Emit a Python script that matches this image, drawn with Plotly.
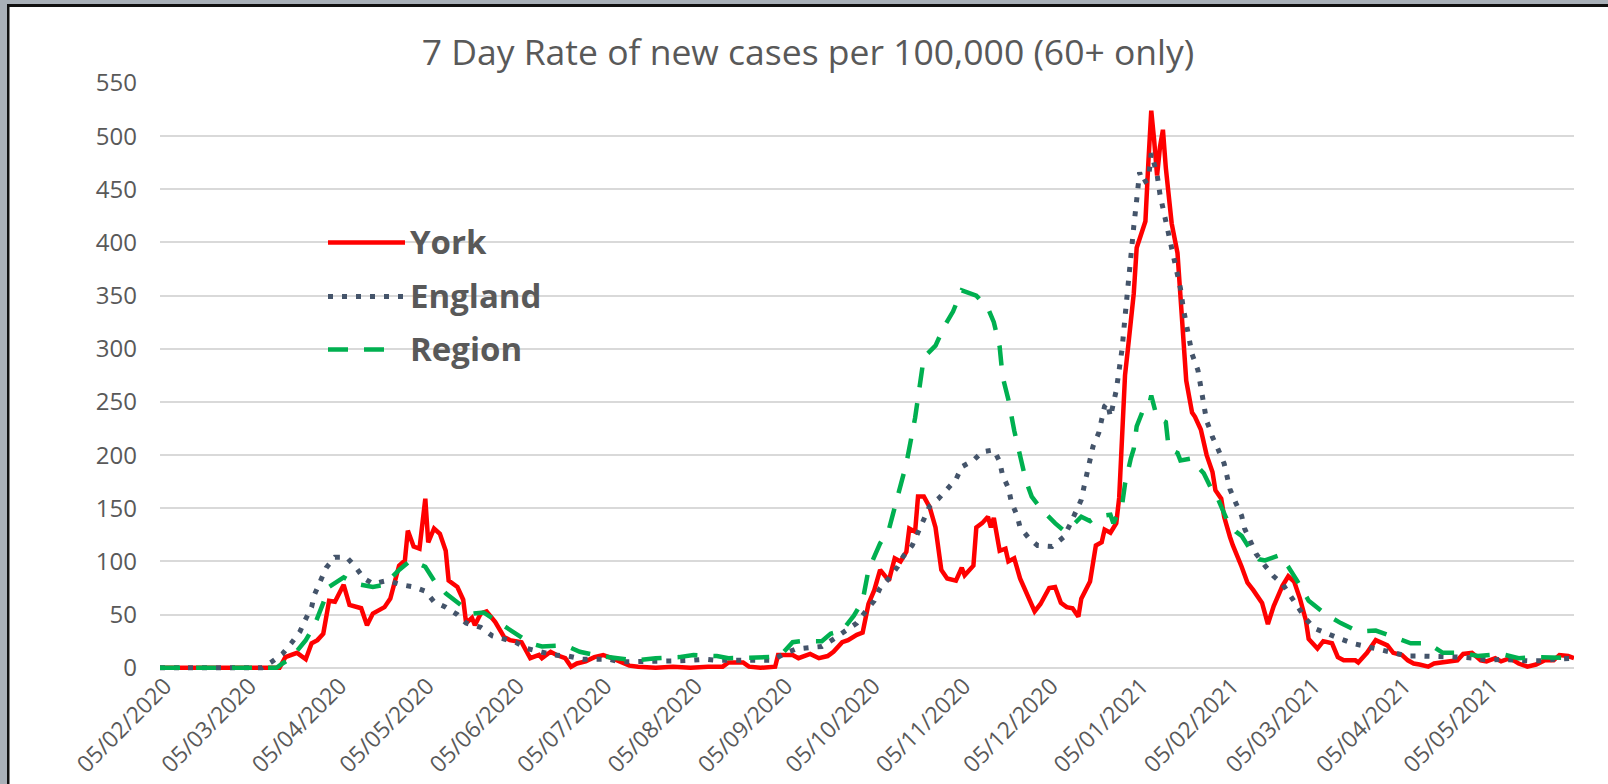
import plotly.graph_objects as go

# ---------------- data ----------------
york_dates = [
    "2020-02-05", "2020-03-17", "2020-03-19", "2020-03-23", "2020-03-26", "2020-03-28", "2020-03-30",
    "2020-04-01", "2020-04-03", "2020-04-05", "2020-04-08", "2020-04-10", "2020-04-14", "2020-04-16",
    "2020-04-18", "2020-04-22", "2020-04-24", "2020-04-27", "2020-04-29", "2020-04-30", "2020-05-02",
    "2020-05-04", "2020-05-06", "2020-05-07", "2020-05-09", "2020-05-11", "2020-05-13", "2020-05-14",
    "2020-05-17", "2020-05-19", "2020-05-20", "2020-05-22", "2020-05-23", "2020-05-25", "2020-05-27",
    "2020-05-30", "2020-06-02", "2020-06-04", "2020-06-08", "2020-06-10", "2020-06-11", "2020-06-14",
    "2020-06-15", "2020-06-18", "2020-06-20", "2020-06-23", "2020-06-25", "2020-06-27", "2020-06-30",
    "2020-07-03", "2020-07-06", "2020-07-09", "2020-07-12", "2020-07-15", "2020-07-18", "2020-07-24",
    "2020-07-30", "2020-08-05", "2020-08-11", "2020-08-16", "2020-08-18", "2020-08-23", "2020-08-25",
    "2020-08-29", "2020-09-03", "2020-09-04", "2020-09-09", "2020-09-11", "2020-09-15", "2020-09-18",
    "2020-09-21", "2020-09-23", "2020-09-26", "2020-09-28", "2020-10-01", "2020-10-03", "2020-10-05",
    "2020-10-07", "2020-10-09", "2020-10-12", "2020-10-14", "2020-10-16", "2020-10-18", "2020-10-19",
    "2020-10-21", "2020-10-22", "2020-10-24", "2020-10-26", "2020-10-28", "2020-10-30", "2020-11-01",
    "2020-11-04", "2020-11-06", "2020-11-07", "2020-11-10", "2020-11-11", "2020-11-13", "2020-11-15",
    "2020-11-16", "2020-11-17", "2020-11-19", "2020-11-21", "2020-11-22", "2020-11-24", "2020-11-26",
    "2020-11-29", "2020-12-01", "2020-12-03", "2020-12-06", "2020-12-08", "2020-12-10", "2020-12-12",
    "2020-12-14", "2020-12-16", "2020-12-17", "2020-12-20", "2020-12-22", "2020-12-24", "2020-12-25",
    "2020-12-27", "2020-12-29", "2020-12-30", "2020-12-31", "2021-01-01", "2021-01-02", "2021-01-03",
    "2021-01-04", "2021-01-05", "2021-01-07", "2021-01-08", "2021-01-09", "2021-01-10", "2021-01-11",
    "2021-01-12", "2021-01-13", "2021-01-14", "2021-01-15", "2021-01-16", "2021-01-17", "2021-01-19",
    "2021-01-20", "2021-01-22", "2021-01-24", "2021-01-25", "2021-01-27", "2021-01-29", "2021-01-31",
    "2021-02-01", "2021-02-03", "2021-02-04", "2021-02-06", "2021-02-07", "2021-02-10", "2021-02-12",
    "2021-02-14", "2021-02-17", "2021-02-19", "2021-02-21", "2021-02-24", "2021-02-26", "2021-02-28",
    "2021-03-02", "2021-03-04", "2021-03-05", "2021-03-08", "2021-03-10", "2021-03-13", "2021-03-15",
    "2021-03-17", "2021-03-21", "2021-03-22", "2021-03-25", "2021-03-28", "2021-03-30", "2021-04-01",
    "2021-04-03", "2021-04-06", "2021-04-08", "2021-04-10", "2021-04-12", "2021-04-15", "2021-04-17",
    "2021-04-20", "2021-04-22", "2021-04-25", "2021-04-27", "2021-04-30", "2021-05-03", "2021-05-05",
    "2021-05-08", "2021-05-10", "2021-05-13", "2021-05-16", "2021-05-19", "2021-05-22", "2021-05-25",
    "2021-05-28", "2021-05-30", "2021-06-02", "2021-06-04",
]
york_values = [
    0, 0, 10, 14, 8, 23, 26,
    32, 63, 62, 78, 59, 56, 40,
    51, 57, 65, 96, 101, 129, 114,
    112, 159, 118, 131, 126, 110, 82,
    76, 64, 42, 47, 40, 51, 53,
    43, 29, 26, 24, 14, 9, 12,
    9, 15, 12, 9, 1, 4, 6,
    10, 12, 9, 5, 2, 1, 0,
    1, 0, 1, 1, 5, 5, 1,
    0, 1, 12, 12, 9, 13, 9,
    11, 15, 24, 26, 31, 33, 60,
    73, 92, 82, 103, 100, 109, 131,
    128, 161, 161, 151, 132, 92, 84,
    82, 94, 87, 96, 132, 136, 142,
    132, 141, 110, 112, 100, 103, 84,
    64, 53, 60, 75, 76, 61, 57,
    56, 48, 65, 81, 115, 118, 130,
    127, 136, 160, 225, 275, 300, 330,
    352, 395, 413, 420, 475, 524, 496,
    463, 490, 506, 470, 440, 418, 390,
    345, 270, 240, 236, 224, 200, 184,
    167, 159, 142, 123, 115, 95, 80,
    73, 61, 41, 58, 77, 86, 81,
    65, 45, 27, 18, 25, 23, 10,
    7, 7, 5, 14, 26, 23, 21,
    14, 12, 7, 4, 3, 1, 4,
    5, 6, 7, 13, 14, 7, 6,
    9, 6, 9, 4, 1, 3, 7,
    7, 12, 11, 9,
]

england_dates = [
    "2020-02-05", "2020-03-11", "2020-03-14", "2020-03-18", "2020-03-21", "2020-03-24", "2020-03-26",
    "2020-03-28", "2020-03-29", "2020-03-31", "2020-04-02", "2020-04-05", "2020-04-09", "2020-04-12",
    "2020-04-15", "2020-04-18", "2020-04-23", "2020-04-28", "2020-05-02", "2020-05-06", "2020-05-09",
    "2020-05-13", "2020-05-17", "2020-05-20", "2020-05-25", "2020-05-29", "2020-06-02", "2020-06-06",
    "2020-06-10", "2020-06-15", "2020-06-19", "2020-06-24", "2020-06-29", "2020-07-03", "2020-07-08",
    "2020-07-12", "2020-07-17", "2020-07-22", "2020-07-27", "2020-08-01", "2020-08-05", "2020-08-10",
    "2020-08-14", "2020-08-19", "2020-08-24", "2020-08-28", "2020-09-02", "2020-09-06", "2020-09-10",
    "2020-09-15", "2020-09-19", "2020-09-23", "2020-09-27", "2020-10-01", "2020-10-04", "2020-10-07",
    "2020-10-09", "2020-10-12", "2020-10-15", "2020-10-17", "2020-10-20", "2020-10-22", "2020-10-24",
    "2020-10-26", "2020-10-29", "2020-11-01", "2020-11-04", "2020-11-06", "2020-11-10", "2020-11-13",
    "2020-11-17", "2020-11-19", "2020-11-20", "2020-11-22", "2020-11-23", "2020-11-25", "2020-11-26",
    "2020-11-29", "2020-12-02", "2020-12-07", "2020-12-11", "2020-12-13", "2020-12-15", "2020-12-17",
    "2020-12-18", "2020-12-19", "2020-12-20", "2020-12-21", "2020-12-23", "2020-12-24", "2020-12-25",
    "2020-12-26", "2020-12-27", "2020-12-29", "2020-12-30", "2020-12-31", "2021-01-01", "2021-01-02",
    "2021-01-03", "2021-01-04", "2021-01-05", "2021-01-06", "2021-01-07", "2021-01-09", "2021-01-10",
    "2021-01-12", "2021-01-13", "2021-01-14", "2021-01-15", "2021-01-16", "2021-01-17", "2021-01-18",
    "2021-01-19", "2021-01-20", "2021-01-21", "2021-01-22", "2021-01-23", "2021-01-24", "2021-01-26",
    "2021-01-27", "2021-01-28", "2021-01-29", "2021-01-30", "2021-01-31", "2021-02-02", "2021-02-04",
    "2021-02-05", "2021-02-06", "2021-02-08", "2021-02-10", "2021-02-11", "2021-02-13", "2021-02-15",
    "2021-02-18", "2021-02-21", "2021-02-24", "2021-02-27", "2021-03-01", "2021-03-04", "2021-03-07",
    "2021-03-11", "2021-03-16", "2021-03-20", "2021-03-25", "2021-03-29", "2021-04-03", "2021-04-08",
    "2021-04-12", "2021-04-17", "2021-04-21", "2021-04-26", "2021-05-01", "2021-05-06", "2021-05-10",
    "2021-05-14", "2021-05-19", "2021-05-24", "2021-05-28", "2021-06-04",
]
england_values = [
    0, 0, 5, 13, 23, 34, 46,
    57, 69, 81, 94, 104, 104, 95,
    84, 79, 82, 78, 76, 72, 62,
    57, 50, 42, 38, 30, 27, 24,
    18, 15, 12, 11, 8, 8, 8,
    5.5, 5.5, 6.5, 6.5, 6.5, 7, 8,
    7, 7, 6, 6, 7, 13, 17.5,
    19, 20, 27, 35, 42, 53, 63,
    75, 84, 95, 105, 115, 128, 140,
    152, 159, 168, 177, 189, 195, 203,
    205, 194, 181, 169, 156, 143, 132,
    122, 115, 114, 123, 134, 146, 158,
    171, 183, 196, 208, 221, 233, 246,
    249, 236, 261, 280, 300, 330, 362,
    395, 415, 440, 466, 456, 459, 484,
    464, 445, 433, 420, 404, 392, 380,
    370, 357, 338, 322, 310, 295, 280,
    262, 245, 232, 225, 217, 205, 192,
    180, 168, 155, 143, 131, 118, 107,
    96, 86, 79, 67, 57, 46, 37,
    32, 27, 23, 20, 17, 14, 11,
    11, 11, 10, 10, 9, 7, 8,
    7, 6.5, 6.5, 8, 9,
]

region_dates = [
    "2020-02-05", "2020-03-16", "2020-03-18", "2020-03-21", "2020-03-26", "2020-03-29", "2020-04-01",
    "2020-04-03", "2020-04-08", "2020-04-12", "2020-04-18", "2020-04-22", "2020-04-27", "2020-05-01",
    "2020-05-06", "2020-05-09", "2020-05-13", "2020-05-17", "2020-05-22", "2020-05-26", "2020-05-31",
    "2020-06-04", "2020-06-11", "2020-06-15", "2020-06-23", "2020-06-28", "2020-07-05", "2020-07-11",
    "2020-07-17", "2020-07-24", "2020-08-01", "2020-08-06", "2020-08-14", "2020-08-18", "2020-08-27",
    "2020-09-01", "2020-09-06", "2020-09-09", "2020-09-12", "2020-09-19", "2020-09-22", "2020-09-26",
    "2020-09-30", "2020-10-03", "2020-10-05", "2020-10-09", "2020-10-12", "2020-10-15", "2020-10-18",
    "2020-10-21", "2020-10-23", "2020-10-24", "2020-10-28", "2020-10-31", "2020-11-03", "2020-11-06",
    "2020-11-11", "2020-11-15", "2020-11-17", "2020-11-19", "2020-11-20", "2020-11-22", "2020-11-24",
    "2020-11-26", "2020-11-28", "2020-11-30", "2020-12-03", "2020-12-08", "2020-12-11", "2020-12-13",
    "2020-12-17", "2020-12-20", "2020-12-22", "2020-12-27", "2020-12-28", "2020-12-31", "2021-01-01",
    "2021-01-03", "2021-01-04", "2021-01-05", "2021-01-07", "2021-01-09", "2021-01-10", "2021-01-12",
    "2021-01-15", "2021-01-16", "2021-01-19", "2021-01-20", "2021-01-24", "2021-01-26", "2021-01-28",
    "2021-01-31", "2021-02-02", "2021-02-05", "2021-02-08", "2021-02-10", "2021-02-13", "2021-02-16",
    "2021-02-18", "2021-02-23", "2021-02-26", "2021-03-01", "2021-03-05", "2021-03-11", "2021-03-16",
    "2021-03-22", "2021-03-28", "2021-04-03", "2021-04-09", "2021-04-15", "2021-04-20", "2021-04-27",
    "2021-05-02", "2021-05-10", "2021-05-16", "2021-05-22", "2021-05-28", "2021-06-04",
]
region_values = [
    0, 0, 4, 9, 26, 40, 61,
    76, 85, 79, 76, 78, 92, 101,
    95, 82, 70, 62, 51, 52, 43,
    35, 23, 20, 21, 15, 11, 9,
    7, 9, 10, 12, 11, 9, 9,
    10, 15, 24, 25, 25, 32, 35,
    49, 63, 92, 117, 130, 161, 192,
    235, 275, 292, 303, 321, 335, 355,
    350, 338, 325, 302, 274, 252, 223,
    198, 176, 161, 150, 136, 129, 131,
    142, 138, 142, 144, 136, 153, 173,
    197, 206, 227, 241, 244, 256, 235,
    231, 206, 202, 195, 197, 189, 183,
    166, 158, 139, 128, 124, 111, 102,
    101, 106, 95, 82, 63, 50, 42,
    34, 35, 29, 23, 23, 14, 14,
    11, 13, 9, 10, 10, 9,
]

tick_dates = [
    "2020-02-05", "2020-03-05", "2020-04-05", "2020-05-05", "2020-06-05", "2020-07-05",
    "2020-08-05", "2020-09-05", "2020-10-05", "2020-11-05", "2020-12-05", "2021-01-05",
    "2021-02-05", "2021-03-05", "2021-04-05", "2021-05-05",
]
tick_labels = [
    "05/02/2020", "05/03/2020", "05/04/2020", "05/05/2020", "05/06/2020", "05/07/2020",
    "05/08/2020", "05/09/2020", "05/10/2020", "05/11/2020", "05/12/2020", "05/01/2021",
    "05/02/2021", "05/03/2021", "05/04/2021", "05/05/2021",
]
y_ticks = list(range(0, 551, 50))

series_names = ["York", "England", "Region"]
series_colors = ["#ff0000", "#44546a", "#00b050"]
series_dash = ["solid", "5px,9px", "20px,16px"]
series_width = [4.5, 5, 4.5]

# ---------------- figure ----------------
W, H = 1608, 784
L, R, T, B = 160, 34, 83, 112
plot_w = W - L - R
plot_h = H - T - B

fig = go.Figure()
for name, xs, ys, col, dash, wd in zip(
    series_names,
    [york_dates, england_dates, region_dates],
    [york_values, england_values, region_values],
    series_colors, series_dash, series_width,
):
    fig.add_trace(go.Scatter(
        x=xs, y=ys, mode="lines", name=name,
        line=dict(color=col, width=wd, dash=dash),
        showlegend=False,
    ))


def px_x(p):
    return (p - L) / plot_w


def px_y(p):
    return (H - B - p) / plot_h


shapes = []
# outer frame (grey strip + dark edge) on left and top
shapes.append(dict(type="rect", xref="paper", yref="paper",
                   x0=px_x(0), x1=px_x(7), y0=px_y(H), y1=px_y(0),
                   fillcolor="#a9b0b8", line=dict(width=0), layer="above"))
shapes.append(dict(type="rect", xref="paper", yref="paper",
                   x0=px_x(0), x1=px_x(W), y0=px_y(4), y1=px_y(0),
                   fillcolor="#a9b0b8", line=dict(width=0), layer="above"))
shapes.append(dict(type="rect", xref="paper", yref="paper",
                   x0=px_x(7), x1=px_x(9.5), y0=px_y(H), y1=px_y(4),
                   fillcolor="#111111", line=dict(width=0), layer="above"))
shapes.append(dict(type="rect", xref="paper", yref="paper",
                   x0=px_x(7), x1=px_x(W), y0=px_y(7), y1=px_y(4),
                   fillcolor="#111111", line=dict(width=0), layer="above"))

# legend (drawn inside the plot, like the original)
legend_rows_y = [242.5, 296.5, 349.5]
legend_x0, legend_x1 = 328, 405
annotations = []
for name, col, dash, wd, ly in zip(series_names, series_colors, series_dash, series_width, legend_rows_y):
    x1 = legend_x1 if name != "Region" else 388
    shapes.append(dict(type="line", xref="paper", yref="paper",
                       x0=px_x(legend_x0), x1=px_x(x1), y0=px_y(ly), y1=px_y(ly),
                       line=dict(color=col, width=wd, dash=dash)))
    annotations.append(dict(xref="paper", yref="paper", x=px_x(408), y=px_y(ly - 1),
                            text="<b>" + name + "</b>", showarrow=False,
                            xanchor="left", yanchor="middle",
                            font=dict(family="Open Sans", size=33, color="#595959")))

fig.update_layout(
    width=W, height=H, autosize=False,
    margin=dict(l=L, r=R, t=T, b=B, pad=0, autoexpand=False),
    paper_bgcolor="white", plot_bgcolor="white",
    title=dict(text="7 Day Rate of new cases per 100,000 (60+ only)",
               x=0.5025, xref="container", xanchor="center",
               y=1 - 53 / H, yref="container", yanchor="middle",
               font=dict(family="Open Sans", size=35.5, color="#595959")),
    showlegend=False,
    shapes=shapes,
    annotations=annotations,
    xaxis=dict(type="date", range=["2020-02-05", "2021-06-04"], automargin=False,
               tickmode="array", tickvals=tick_dates, ticktext=tick_labels,
               tickangle=-45, showgrid=False, zeroline=False, showline=False,
               ticks="", ticklabelstandoff=-5, ticklabelshift=5,
               tickfont=dict(family="Open Sans", size=23, color="#595959")),
    yaxis=dict(range=[-4, 550], tickmode="array", tickvals=y_ticks, automargin=False,
               showgrid=True, gridcolor="#d9d9d9", gridwidth=2,
               zeroline=False, showline=False, ticks="",
               ticklabelstandoff=22,
               tickfont=dict(family="Open Sans", size=24, color="#595959")),
)

fig.write_html(
    "out.html",
    config={"displayModeBar": False},
    post_script="document.body.style.margin='0';document.body.style.overflow='hidden';",
)
